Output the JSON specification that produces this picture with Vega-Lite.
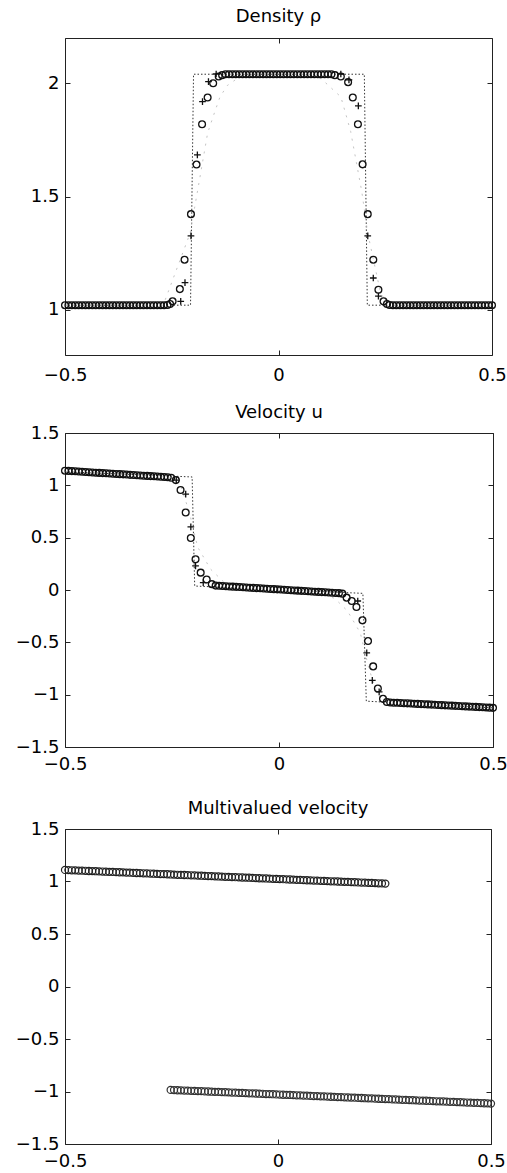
{
  "$schema": "https://vega.github.io/schema/vega-lite/v6.json",
  "padding": {"left": 0, "top": 7, "right": 0, "bottom": 0},
  "columns": 1,
  "align": "none",
  "spacing": 10,
  "config": {
    "view": {"stroke": "#222", "strokeWidth": 1},
    "font": "DejaVu Sans",
    "axis": {"domain": false, "grid": false, "ticks": true, "tickSize": -5, "tickColor": "#222", "tickWidth": 1, "labelFont": "DejaVu Sans", "labelFontSize": 18, "labelColor": "#000", "labelFlush": false, "labelOverlap": false, "title": null, "format": "~g"},
    "title": {"font": "DejaVu Sans", "fontSize": 18, "fontWeight": "normal", "color": "#000", "offset": 12}
  },
  "datasets": {
    "d1e": [{"x":-0.5,"y":1.02},{"x":-0.206,"y":1.02},{"x":-0.199,"y":2.04},{"x":0.201,"y":2.04},{"x":0.208,"y":1.02},{"x":0.5,"y":1.02}],
    "d1g": [{"x":-0.5,"y":1.02},{"x":-0.27,"y":1.02},{"x":-0.207,"y":1.338},{"x":-0.19,"y":1.52},{"x":-0.166,"y":1.78},{"x":-0.15,"y":1.87},{"x":-0.137,"y":1.94},{"x":-0.12,"y":1.99},{"x":-0.09,"y":2.03},{"x":-0.06,"y":2.04},{"x":0.06,"y":2.04},{"x":0.1,"y":2.02},{"x":0.146,"y":1.94},{"x":0.157,"y":1.868},{"x":0.169,"y":1.787},{"x":0.195,"y":1.522},{"x":0.209,"y":1.338},{"x":0.24,"y":1.066},{"x":0.27,"y":1.02},{"x":0.5,"y":1.02}],
    "d1c": [{"x":-0.5,"y":1.02},{"x":-0.492,"y":1.02},{"x":-0.484,"y":1.02},{"x":-0.476,"y":1.02},{"x":-0.468,"y":1.02},{"x":-0.46,"y":1.02},{"x":-0.452,"y":1.02},{"x":-0.444,"y":1.02},{"x":-0.436,"y":1.02},{"x":-0.428,"y":1.02},{"x":-0.42,"y":1.02},{"x":-0.412,"y":1.02},{"x":-0.404,"y":1.02},{"x":-0.396,"y":1.02},{"x":-0.388,"y":1.02},{"x":-0.38,"y":1.02},{"x":-0.372,"y":1.02},{"x":-0.364,"y":1.02},{"x":-0.356,"y":1.02},{"x":-0.348,"y":1.02},{"x":-0.34,"y":1.02},{"x":-0.332,"y":1.02},{"x":-0.324,"y":1.02},{"x":-0.316,"y":1.02},{"x":-0.308,"y":1.02},{"x":-0.3,"y":1.02},{"x":-0.292,"y":1.02},{"x":-0.284,"y":1.02},{"x":-0.276,"y":1.02},{"x":-0.268,"y":1.02},{"x":-0.26,"y":1.021},{"x":-0.254,"y":1.025},
      {"x":-0.248,"y":1.037},{"x":-0.231,"y":1.091},{"x":-0.22,"y":1.221},{"x":-0.205,"y":1.422},{"x":-0.192,"y":1.641},{"x":-0.179,"y":1.819},{"x":-0.166,"y":1.937},{"x":-0.153,"y":2.0},{"x":-0.14,"y":2.03},
      {"x":-0.132,"y":2.036},{"x":-0.124,"y":2.04},{"x":-0.116,"y":2.04},{"x":-0.108,"y":2.04},{"x":-0.1,"y":2.04},{"x":-0.092,"y":2.04},{"x":-0.084,"y":2.04},{"x":-0.076,"y":2.04},{"x":-0.068,"y":2.04},{"x":-0.06,"y":2.04},{"x":-0.052,"y":2.04},{"x":-0.044,"y":2.04},{"x":-0.036,"y":2.04},{"x":-0.028,"y":2.04},{"x":-0.02,"y":2.04},{"x":-0.012,"y":2.04},{"x":-0.004,"y":2.04},{"x":0.004,"y":2.04},{"x":0.012,"y":2.04},{"x":0.02,"y":2.04},{"x":0.028,"y":2.04},{"x":0.036,"y":2.04},{"x":0.044,"y":2.04},{"x":0.052,"y":2.04},{"x":0.06,"y":2.04},{"x":0.068,"y":2.04},{"x":0.076,"y":2.04},{"x":0.084,"y":2.04},{"x":0.092,"y":2.04},{"x":0.1,"y":2.04},{"x":0.108,"y":2.04},{"x":0.116,"y":2.04},{"x":0.124,"y":2.04},{"x":0.132,"y":2.036},
      {"x":0.146,"y":2.03},{"x":0.163,"y":2.005},{"x":0.174,"y":1.937},{"x":0.186,"y":1.819},{"x":0.197,"y":1.642},{"x":0.209,"y":1.422},{"x":0.222,"y":1.221},{"x":0.234,"y":1.088},{"x":0.246,"y":1.037},
      {"x":0.254,"y":1.025},{"x":0.26,"y":1.021},{"x":0.268,"y":1.02},{"x":0.276,"y":1.02},{"x":0.284,"y":1.02},{"x":0.292,"y":1.02},{"x":0.3,"y":1.02},{"x":0.308,"y":1.02},{"x":0.316,"y":1.02},{"x":0.324,"y":1.02},{"x":0.332,"y":1.02},{"x":0.34,"y":1.02},{"x":0.348,"y":1.02},{"x":0.356,"y":1.02},{"x":0.364,"y":1.02},{"x":0.372,"y":1.02},{"x":0.38,"y":1.02},{"x":0.388,"y":1.02},{"x":0.396,"y":1.02},{"x":0.404,"y":1.02},{"x":0.412,"y":1.02},{"x":0.42,"y":1.02},{"x":0.428,"y":1.02},{"x":0.436,"y":1.02},{"x":0.444,"y":1.02},{"x":0.452,"y":1.02},{"x":0.46,"y":1.02},{"x":0.468,"y":1.02},{"x":0.476,"y":1.02},{"x":0.484,"y":1.02},{"x":0.492,"y":1.02},{"x":0.5,"y":1.02}],
    "d1p": [{"x":-0.229,"y":1.037},{"x":-0.219,"y":1.12},{"x":-0.205,"y":1.326},{"x":-0.19,"y":1.684},{"x":-0.178,"y":1.919},{"x":-0.164,"y":2.007},{"x":-0.146,"y":2.041},{"x":0.146,"y":2.041},{"x":0.165,"y":2.015},{"x":0.187,"y":1.9},{"x":0.209,"y":1.326},{"x":0.222,"y":1.14},{"x":0.234,"y":1.06}],
    "d2e": [{"x":-0.5,"y":1.13},{"x":-0.203,"y":1.08},{"x":-0.197,"y":0.038},{"x":0.196,"y":-0.032},{"x":0.204,"y":-1.062},{"x":0.5,"y":-1.126}],
    "d2g": [{"x":-0.5,"y":1.13},{"x":-0.26,"y":1.08},{"x":-0.23,"y":1.0},{"x":-0.21,"y":0.75},{"x":-0.19,"y":0.41},{"x":-0.16,"y":0.2},{"x":-0.13,"y":0.08},{"x":-0.1,"y":0.04},{"x":0.1,"y":-0.04},{"x":0.13,"y":-0.08},{"x":0.16,"y":-0.2},{"x":0.19,"y":-0.41},{"x":0.21,"y":-0.75},{"x":0.23,"y":-1.0},{"x":0.26,"y":-1.08},{"x":0.5,"y":-1.126}],
    "d2c": [{"x":-0.5,"y":1.14},{"x":-0.492,"y":1.138},{"x":-0.484,"y":1.136},{"x":-0.476,"y":1.134},{"x":-0.468,"y":1.132},{"x":-0.46,"y":1.13},{"x":-0.452,"y":1.128},{"x":-0.444,"y":1.125},{"x":-0.436,"y":1.123},{"x":-0.428,"y":1.121},{"x":-0.42,"y":1.119},{"x":-0.412,"y":1.117},{"x":-0.404,"y":1.115},{"x":-0.396,"y":1.113},{"x":-0.388,"y":1.111},{"x":-0.38,"y":1.109},{"x":-0.372,"y":1.107},{"x":-0.364,"y":1.105},{"x":-0.356,"y":1.103},{"x":-0.348,"y":1.1},{"x":-0.34,"y":1.098},{"x":-0.332,"y":1.096},{"x":-0.324,"y":1.094},{"x":-0.316,"y":1.092},{"x":-0.308,"y":1.09},{"x":-0.3,"y":1.088},{"x":-0.292,"y":1.086},{"x":-0.284,"y":1.084},{"x":-0.276,"y":1.082},{"x":-0.268,"y":1.08},{"x":-0.26,"y":1.078},{"x":-0.252,"y":1.072},
      {"x":-0.241,"y":1.05},{"x":-0.23,"y":0.955},{"x":-0.218,"y":0.74},{"x":-0.206,"y":0.497},{"x":-0.195,"y":0.294},{"x":-0.183,"y":0.166},{"x":-0.169,"y":0.1},{"x":-0.157,"y":0.056},
      {"x":-0.148,"y":0.042},{"x":-0.14,"y":0.04},{"x":-0.132,"y":0.038},{"x":-0.124,"y":0.036},{"x":-0.116,"y":0.034},{"x":-0.108,"y":0.032},{"x":-0.1,"y":0.03},{"x":-0.092,"y":0.028},{"x":-0.084,"y":0.026},{"x":-0.076,"y":0.024},{"x":-0.068,"y":0.022},{"x":-0.06,"y":0.02},{"x":-0.052,"y":0.018},{"x":-0.044,"y":0.016},{"x":-0.036,"y":0.014},{"x":-0.028,"y":0.012},{"x":-0.02,"y":0.01},{"x":-0.012,"y":0.008},{"x":-0.004,"y":0.006},{"x":0.004,"y":0.004},{"x":0.012,"y":0.002},{"x":0.02,"y":0.0},{"x":0.028,"y":-0.002},{"x":0.036,"y":-0.004},{"x":0.044,"y":-0.006},{"x":0.052,"y":-0.008},{"x":0.06,"y":-0.01},{"x":0.068,"y":-0.012},{"x":0.076,"y":-0.014},{"x":0.084,"y":-0.016},{"x":0.092,"y":-0.018},{"x":0.1,"y":-0.02},{"x":0.108,"y":-0.022},{"x":0.116,"y":-0.024},{"x":0.124,"y":-0.026},{"x":0.132,"y":-0.028},{"x":0.14,"y":-0.03},{"x":0.148,"y":-0.035},
      {"x":0.158,"y":-0.073},{"x":0.17,"y":-0.105},{"x":0.181,"y":-0.163},{"x":0.195,"y":-0.29},{"x":0.208,"y":-0.488},{"x":0.22,"y":-0.73},{"x":0.231,"y":-0.941},{"x":0.243,"y":-1.04},
      {"x":0.252,"y":-1.07},{"x":0.26,"y":-1.075},{"x":0.268,"y":-1.077},{"x":0.276,"y":-1.078},{"x":0.284,"y":-1.08},{"x":0.292,"y":-1.082},{"x":0.3,"y":-1.083},{"x":0.308,"y":-1.085},{"x":0.316,"y":-1.087},{"x":0.324,"y":-1.088},{"x":0.332,"y":-1.09},{"x":0.34,"y":-1.092},{"x":0.348,"y":-1.093},{"x":0.356,"y":-1.095},{"x":0.364,"y":-1.097},{"x":0.372,"y":-1.099},{"x":0.38,"y":-1.1},{"x":0.388,"y":-1.102},{"x":0.396,"y":-1.104},{"x":0.404,"y":-1.105},{"x":0.412,"y":-1.107},{"x":0.42,"y":-1.109},{"x":0.428,"y":-1.11},{"x":0.436,"y":-1.112},{"x":0.444,"y":-1.114},{"x":0.452,"y":-1.115},{"x":0.46,"y":-1.117},{"x":0.468,"y":-1.119},{"x":0.476,"y":-1.12},{"x":0.484,"y":-1.122},{"x":0.492,"y":-1.124},{"x":0.5,"y":-1.126}],
    "d2p": [{"x":-0.24,"y":1.05},{"x":-0.218,"y":0.916},{"x":-0.206,"y":0.603},{"x":-0.195,"y":0.23},{"x":-0.177,"y":0.07},{"x":0.184,"y":-0.105},{"x":0.205,"y":-0.6},{"x":0.218,"y":-0.864},{"x":0.234,"y":-0.973}],
    "d3a": [{"x":-0.5,"y":1.11},{"x":-0.492,"y":1.109},{"x":-0.484,"y":1.107},{"x":-0.476,"y":1.106},{"x":-0.468,"y":1.104},{"x":-0.46,"y":1.103},{"x":-0.452,"y":1.102},{"x":-0.444,"y":1.1},{"x":-0.436,"y":1.099},{"x":-0.428,"y":1.098},{"x":-0.42,"y":1.096},{"x":-0.412,"y":1.095},{"x":-0.404,"y":1.093},{"x":-0.396,"y":1.092},{"x":-0.388,"y":1.091},{"x":-0.38,"y":1.089},{"x":-0.372,"y":1.088},{"x":-0.364,"y":1.087},{"x":-0.356,"y":1.085},{"x":-0.348,"y":1.084},{"x":-0.34,"y":1.082},{"x":-0.332,"y":1.081},{"x":-0.324,"y":1.08},{"x":-0.316,"y":1.078},{"x":-0.308,"y":1.077},{"x":-0.3,"y":1.076},{"x":-0.292,"y":1.074},{"x":-0.284,"y":1.073},{"x":-0.276,"y":1.071},{"x":-0.268,"y":1.07},{"x":-0.26,"y":1.069},{"x":-0.252,"y":1.067},{"x":-0.244,"y":1.066},{"x":-0.236,"y":1.064},{"x":-0.228,"y":1.063},{"x":-0.22,"y":1.062},{"x":-0.212,"y":1.06},{"x":-0.204,"y":1.059},{"x":-0.196,"y":1.058},{"x":-0.188,"y":1.056},{"x":-0.18,"y":1.055},{"x":-0.172,"y":1.053},{"x":-0.164,"y":1.052},{"x":-0.156,"y":1.051},{"x":-0.148,"y":1.049},{"x":-0.14,"y":1.048},{"x":-0.132,"y":1.047},{"x":-0.124,"y":1.045},{"x":-0.116,"y":1.044},{"x":-0.108,"y":1.042},{"x":-0.1,"y":1.041},{"x":-0.092,"y":1.04},{"x":-0.084,"y":1.038},{"x":-0.076,"y":1.037},{"x":-0.068,"y":1.036},{"x":-0.06,"y":1.034},{"x":-0.052,"y":1.033},{"x":-0.044,"y":1.031},{"x":-0.036,"y":1.03},{"x":-0.028,"y":1.029},{"x":-0.02,"y":1.027},{"x":-0.012,"y":1.026},{"x":-0.004,"y":1.024},{"x":0.004,"y":1.023},{"x":0.012,"y":1.022},{"x":0.02,"y":1.02},{"x":0.028,"y":1.019},{"x":0.036,"y":1.018},{"x":0.044,"y":1.016},{"x":0.052,"y":1.015},{"x":0.06,"y":1.013},{"x":0.068,"y":1.012},{"x":0.076,"y":1.011},{"x":0.084,"y":1.009},{"x":0.092,"y":1.008},{"x":0.1,"y":1.007},{"x":0.108,"y":1.005},{"x":0.116,"y":1.004},{"x":0.124,"y":1.002},{"x":0.132,"y":1.001},{"x":0.14,"y":1.0},{"x":0.148,"y":0.998},{"x":0.156,"y":0.997},{"x":0.164,"y":0.996},{"x":0.172,"y":0.994},{"x":0.18,"y":0.993},{"x":0.188,"y":0.991},{"x":0.196,"y":0.99},{"x":0.204,"y":0.989},{"x":0.212,"y":0.987},{"x":0.22,"y":0.986},{"x":0.228,"y":0.985},{"x":0.236,"y":0.983},{"x":0.244,"y":0.982},{"x":0.252,"y":0.98}],
    "d3b": [{"x":-0.252,"y":-0.985},{"x":-0.244,"y":-0.986},{"x":-0.236,"y":-0.988},{"x":-0.228,"y":-0.989},{"x":-0.22,"y":-0.991},{"x":-0.212,"y":-0.992},{"x":-0.204,"y":-0.993},{"x":-0.196,"y":-0.995},{"x":-0.188,"y":-0.996},{"x":-0.18,"y":-0.997},{"x":-0.172,"y":-0.999},{"x":-0.164,"y":-1.0},{"x":-0.156,"y":-1.002},{"x":-0.148,"y":-1.003},{"x":-0.14,"y":-1.004},{"x":-0.132,"y":-1.006},{"x":-0.124,"y":-1.007},{"x":-0.116,"y":-1.008},{"x":-0.108,"y":-1.01},{"x":-0.1,"y":-1.011},{"x":-0.092,"y":-1.013},{"x":-0.084,"y":-1.014},{"x":-0.076,"y":-1.015},{"x":-0.068,"y":-1.017},{"x":-0.06,"y":-1.018},{"x":-0.052,"y":-1.019},{"x":-0.044,"y":-1.021},{"x":-0.036,"y":-1.022},{"x":-0.028,"y":-1.024},{"x":-0.02,"y":-1.025},{"x":-0.012,"y":-1.026},{"x":-0.004,"y":-1.028},{"x":0.004,"y":-1.029},{"x":0.012,"y":-1.031},{"x":0.02,"y":-1.032},{"x":0.028,"y":-1.033},{"x":0.036,"y":-1.035},{"x":0.044,"y":-1.036},{"x":0.052,"y":-1.037},{"x":0.06,"y":-1.039},{"x":0.068,"y":-1.04},{"x":0.076,"y":-1.042},{"x":0.084,"y":-1.043},{"x":0.092,"y":-1.044},{"x":0.1,"y":-1.046},{"x":0.108,"y":-1.047},{"x":0.116,"y":-1.048},{"x":0.124,"y":-1.05},{"x":0.132,"y":-1.051},{"x":0.14,"y":-1.053},{"x":0.148,"y":-1.054},{"x":0.156,"y":-1.055},{"x":0.164,"y":-1.057},{"x":0.172,"y":-1.058},{"x":0.18,"y":-1.059},{"x":0.188,"y":-1.061},{"x":0.196,"y":-1.062},{"x":0.204,"y":-1.064},{"x":0.212,"y":-1.065},{"x":0.22,"y":-1.066},{"x":0.228,"y":-1.068},{"x":0.236,"y":-1.069},{"x":0.244,"y":-1.071},{"x":0.252,"y":-1.072},{"x":0.26,"y":-1.073},{"x":0.268,"y":-1.075},{"x":0.276,"y":-1.076},{"x":0.284,"y":-1.077},{"x":0.292,"y":-1.079},{"x":0.3,"y":-1.08},{"x":0.308,"y":-1.082},{"x":0.316,"y":-1.083},{"x":0.324,"y":-1.084},{"x":0.332,"y":-1.086},{"x":0.34,"y":-1.087},{"x":0.348,"y":-1.088},{"x":0.356,"y":-1.09},{"x":0.364,"y":-1.091},{"x":0.372,"y":-1.093},{"x":0.38,"y":-1.094},{"x":0.388,"y":-1.095},{"x":0.396,"y":-1.097},{"x":0.404,"y":-1.098},{"x":0.412,"y":-1.099},{"x":0.42,"y":-1.101},{"x":0.428,"y":-1.102},{"x":0.436,"y":-1.104},{"x":0.444,"y":-1.105},{"x":0.452,"y":-1.106},{"x":0.46,"y":-1.108},{"x":0.468,"y":-1.109},{"x":0.476,"y":-1.11},{"x":0.484,"y":-1.112},{"x":0.492,"y":-1.113},{"x":0.5,"y":-1.115}]
  },
  "concat": [
    {
      "title": {"text": "Density ρ", "offset": 12},
      "width": 427, "height": 317,
      "layer": [
        {"data": {"name": "d1e"}, "mark": {"type": "line", "stroke": "#333", "strokeWidth": 1, "strokeDash": [1.5, 2]},
         "encoding": {
           "x": {"field": "x", "type": "quantitative", "scale": {"domain": [-0.5, 0.5], "nice": false, "zero": false}, "axis": {"orient": "bottom", "values": [-0.5, 0, 0.5], "labelPadding": 16, "minExtent": 37, "maxExtent": 37}},
           "y": {"field": "y", "type": "quantitative", "scale": {"domain": [0.8, 2.2], "nice": false, "zero": false}, "axis": {"orient": "left", "values": [1, 1.5, 2], "labelPadding": 11, "minExtent": 64, "maxExtent": 64}}}},
        {"data": {"name": "d1g"}, "mark": {"type": "line", "stroke": "#c4c4c4", "strokeWidth": 1, "strokeDash": [2, 6]},
         "encoding": {"x": {"field": "x", "type": "quantitative", "axis": null}, "y": {"field": "y", "type": "quantitative", "axis": null}}},
        {"data": {"name": "d1c"}, "mark": {"type": "point", "shape": "circle", "filled": false, "stroke": "#111", "strokeWidth": 1.3, "size": 46, "opacity": 1},
         "encoding": {
           "x": {"field": "x", "type": "quantitative", "axis": {"orient": "top", "values": [-0.5, 0, 0.5], "labels": false, "minExtent": 0, "maxExtent": 0}},
           "y": {"field": "y", "type": "quantitative", "axis": {"orient": "right", "values": [1, 1.5, 2], "labels": false, "minExtent": 0, "maxExtent": 0}}}},
        {"data": {"name": "d1p"}, "mark": {"type": "point", "shape": "M-1,0H1M0,-1V1", "filled": false, "stroke": "#111", "strokeWidth": 1.3, "size": 45, "opacity": 1},
         "encoding": {"x": {"field": "x", "type": "quantitative", "axis": null}, "y": {"field": "y", "type": "quantitative", "axis": null}}}
      ]
    },
    {
      "title": {"text": "Velocity u", "offset": 2},
      "width": 428, "height": 314,
      "layer": [
        {"data": {"name": "d2e"}, "mark": {"type": "line", "stroke": "#333", "strokeWidth": 1, "strokeDash": [1.5, 2]},
         "encoding": {
           "x": {"field": "x", "type": "quantitative", "scale": {"domain": [-0.5, 0.5], "nice": false, "zero": false}, "axis": {"orient": "bottom", "values": [-0.5, 0, 0.5], "labelPadding": 13, "minExtent": 41, "maxExtent": 41}},
           "y": {"field": "y", "type": "quantitative", "scale": {"domain": [-1.5, 1.5], "nice": false, "zero": false}, "axis": {"orient": "left", "values": [-1.5, -1, -0.5, 0, 0.5, 1, 1.5], "labelPadding": 11, "minExtent": 61, "maxExtent": 61}}}},
        {"data": {"name": "d2g"}, "mark": {"type": "line", "stroke": "#c4c4c4", "strokeWidth": 1, "strokeDash": [2, 6]},
         "encoding": {"x": {"field": "x", "type": "quantitative", "axis": null}, "y": {"field": "y", "type": "quantitative", "axis": null}}},
        {"data": {"name": "d2c"}, "mark": {"type": "point", "shape": "circle", "filled": false, "stroke": "#111", "strokeWidth": 1.3, "size": 46, "opacity": 1},
         "encoding": {
           "x": {"field": "x", "type": "quantitative", "axis": {"orient": "top", "values": [-0.5, 0, 0.5], "labels": false, "minExtent": 0, "maxExtent": 0}},
           "y": {"field": "y", "type": "quantitative", "axis": {"orient": "right", "values": [-1.5, -1, -0.5, 0, 0.5, 1, 1.5], "labels": false, "minExtent": 0, "maxExtent": 0}}}},
        {"data": {"name": "d2p"}, "mark": {"type": "point", "shape": "M-1,0H1M0,-1V1", "filled": false, "stroke": "#111", "strokeWidth": 1.3, "size": 45, "opacity": 1},
         "encoding": {"x": {"field": "x", "type": "quantitative", "axis": null}, "y": {"field": "y", "type": "quantitative", "axis": null}}}
      ]
    },
    {
      "title": {"text": "Multivalued velocity", "offset": 2.5},
      "width": 426, "height": 315,
      "layer": [
        {"data": {"name": "d3a"}, "mark": {"type": "point", "shape": "circle", "filled": false, "stroke": "#222", "strokeWidth": 1.2, "size": 50, "opacity": 1},
         "encoding": {
           "x": {"field": "x", "type": "quantitative", "scale": {"domain": [-0.5, 0.5], "nice": false, "zero": false}, "axis": {"orient": "bottom", "values": [-0.5, 0, 0.5], "labelPadding": 13, "minExtent": 30, "maxExtent": 30}},
           "y": {"field": "y", "type": "quantitative", "scale": {"domain": [-1.5, 1.5], "nice": false, "zero": false}, "axis": {"orient": "left", "values": [-1.5, -1, -0.5, 0, 0.5, 1, 1.5], "labelPadding": 11, "minExtent": 59, "maxExtent": 59}}}},
        {"data": {"name": "d3b"}, "mark": {"type": "point", "shape": "circle", "filled": false, "stroke": "#333", "strokeWidth": 1.2, "size": 50, "opacity": 1},
         "encoding": {
           "x": {"field": "x", "type": "quantitative", "axis": {"orient": "top", "values": [-0.5, 0, 0.5], "labels": false, "minExtent": 0, "maxExtent": 0}},
           "y": {"field": "y", "type": "quantitative", "axis": {"orient": "right", "values": [-1.5, -1, -0.5, 0, 0.5, 1, 1.5], "labels": false, "minExtent": 0, "maxExtent": 0}}}}
      ]
    }
  ]
}
